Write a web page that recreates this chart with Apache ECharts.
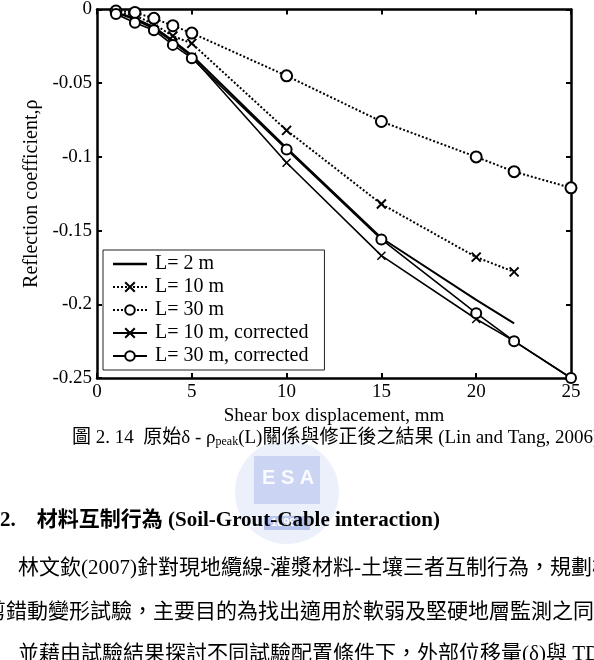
<!DOCTYPE html>
<html>
<head>
<meta charset="utf-8">
<script src="https://cdn.jsdelivr.net/npm/echarts@6/dist/echarts.min.js"></script>
<style>
html,body{margin:0;padding:0;background:#fff;}
#main{width:594px;height:660px;}
</style>
</head>
<body>
<div id="main"></div>
<script>
// shear box displacement, mm
var xs = [1, 2, 3, 4, 5, 10, 15, 20, 22, 25];
// reflection coefficient per series
var rhoL2 = [-0.002, -0.006, -0.012, -0.021, -0.031, -0.094, -0.155, -0.197, -0.213];
var rhoL10 = [-0.002, -0.004, -0.010, -0.018, -0.023, -0.082, -0.132, -0.168, -0.178];
var rhoL30 = [-0.001, -0.002, -0.006, -0.011, -0.016, -0.045, -0.076, -0.100, -0.110, -0.121];
var rhoL10c = [-0.002, -0.007, -0.013, -0.022, -0.032, -0.104, -0.167, -0.210, -0.225, -0.250];
var rhoL30c = [-0.003, -0.009, -0.014, -0.024, -0.033, -0.095, -0.156, -0.206, -0.225, -0.250];
var names = ['L= 2 m', 'L= 10 m', 'L= 30 m', 'L= 10 m, corrected', 'L= 30 m, corrected'];

var serif = "'Liberation Serif', 'Times New Roman', serif";
var cjk = "'Liberation Serif', 'Noto Sans CJK TC', serif";
var xMark = 'path://M0,0L10,10M10,0L0,10';

function pairs(vals){
	return vals.map(function(v, i){ return [xs[i], v]; });
}

var chart = echarts.init(document.getElementById('main'));

var axisLine = {show: true, onZero: false, lineStyle: {color: '#000', width: 2.5}};
var tick = {show: true, inside: true, length: 5, lineStyle: {color: '#000', width: 2}};

option = {
	backgroundColor: '#fff',
	animation: false,
	grid: {left: 97, right: 23, top: 5, bottom: 282},
	legend: {
		data: [
			{name: names[0], icon: 'path://M0,0L40,0L40,3L0,3Z'},
			names[1], names[2], names[3], names[4]
		],
		orient: 'vertical',
		left: 103, top: 250,
		itemWidth: 34, itemHeight: 12, itemGap: 3,
		padding: [4, 16, 4, 9],
		borderColor: '#222', borderWidth: 1,
		backgroundColor: '#fff',
		textStyle: {fontFamily: serif, fontSize: 20, color: '#000', padding: [0, 0, 0, 3]}
	},
	xAxis: [{
		type: 'value', min: 0, max: 25, interval: 5,
		name: 'Shear box displacement, mm', nameLocation: 'middle', nameGap: 24,
		nameTextStyle: {fontFamily: serif, fontSize: 19, color: '#000'},
		axisLine: axisLine, axisTick: tick,
		axisLabel: {fontFamily: serif, fontSize: 19, color: '#000', margin: 5},
		splitLine: {show: false}
	}, {
		type: 'value', min: 0, max: 25, interval: 5, position: 'top',
		axisLine: axisLine, axisTick: tick, axisLabel: {show: false}, splitLine: {show: false}
	}],
	yAxis: [{
		type: 'value', min: -0.25, max: 0, interval: 0.05,
		name: 'Reflection coefficient,ρ', nameLocation: 'middle', nameGap: 52,
		nameTextStyle: {fontFamily: serif, fontSize: 20, color: '#000'},
		axisLine: axisLine, axisTick: tick,
		axisLabel: {fontFamily: serif, fontSize: 19, color: '#000', margin: 5},
		splitLine: {show: false}
	}, {
		type: 'value', min: -0.25, max: 0, interval: 0.05, position: 'right',
		axisLine: axisLine, axisTick: tick, axisLabel: {show: false}, splitLine: {show: false}
	}],
	series: [{
		name: names[0], type: 'line', data: pairs(rhoL2),
		symbol: 'none', lineStyle: {color: '#000', width: 2, type: 'solid'}, itemStyle: {color: '#000'}
	}, {
		name: names[1], type: 'line', data: pairs(rhoL10),
		symbol: xMark, symbolSize: 9,
		lineStyle: {color: '#000', width: 2, type: [2, 2]},
		itemStyle: {color: '#000', borderColor: '#000', borderWidth: 2}
	}, {
		name: names[2], type: 'line', data: pairs(rhoL30),
		symbol: 'emptyCircle', symbolSize: 11,
		lineStyle: {color: '#000', width: 2, type: [2, 2]},
		itemStyle: {color: '#000', borderWidth: 2}
	}, {
		name: names[3], type: 'line', data: pairs(rhoL10c),
		symbol: xMark, symbolSize: 8,
		lineStyle: {color: '#000', width: 1.6, type: 'solid'},
		itemStyle: {color: '#000', borderColor: '#000', borderWidth: 1.5}
	}, {
		name: names[4], type: 'line', data: pairs(rhoL30c),
		symbol: 'emptyCircle', symbolSize: 10,
		lineStyle: {color: '#000', width: 1.6, type: 'solid'},
		itemStyle: {color: '#000', borderWidth: 1.5}
	}],
	graphic: [
		// faint NCTU watermark
		{type: 'group', left: 235, top: 440, silent: true, children: [
			{type: 'circle', shape: {cx: 65, cy: 52, r: 52}, style: {fill: 'rgba(150,170,235,0.18)'}},
			{type: 'rect', shape: {x: 32, y: 16, width: 66, height: 48}, style: {fill: 'rgba(130,150,228,0.3)'}},
			{type: 'text', style: {x: 40, y: 28, text: 'E S A', font: 'bold 20px sans-serif', fill: 'rgba(255,255,255,0.9)'}},
			{type: 'rect', shape: {x: 42, y: 76, width: 46, height: 14}, style: {fill: 'rgba(140,160,230,0.55)'}},
			{type: 'text', style: {x: 49, y: 77, text: '1896', font: 'bold 11px sans-serif', fill: '#fff'}}
		]},
		{type: 'text', left: 72, top: 429, style: {
			text: '圖 2. 14  原始δ - ρ{sub|peak}(L)關係與修正後之結果 (Lin and Tang, 2006)',
			font: '19px ' + cjk, fill: '#000',
			rich: {sub: {fontSize: 12, fontFamily: serif, padding: [7, 0, 0, 0]}}
		}},
		{type: 'text', left: 0, top: 510, style: {
			text: '2.    材料互制行為 (Soil-Grout-Cable interaction)',
			font: 'bold 21px ' + cjk, fill: '#000'
		}},
		{type: 'text', left: 18, top: 558, style: {
			text: '林文欽(2007)針對現地纜線-灌漿材料-土壤三者互制行為，規劃模擬',
			font: '21px ' + cjk, fill: '#000'
		}},
		{type: 'text', x: -15, y: 602, style: {
			text: '剪錯動變形試驗，主要目的為找出適用於軟弱及堅硬地層監測之同軸',
			font: '21px ' + cjk, fill: '#000'
		}},
		{type: 'text', left: 18, top: 644, style: {
			text: '並藉由試驗結果探討不同試驗配置條件下，外部位移量(δ)與 TDR',
			font: '21px ' + cjk, fill: '#000'
		}}
	]
};
chart.setOption(option);
</script>
</body>
</html>
